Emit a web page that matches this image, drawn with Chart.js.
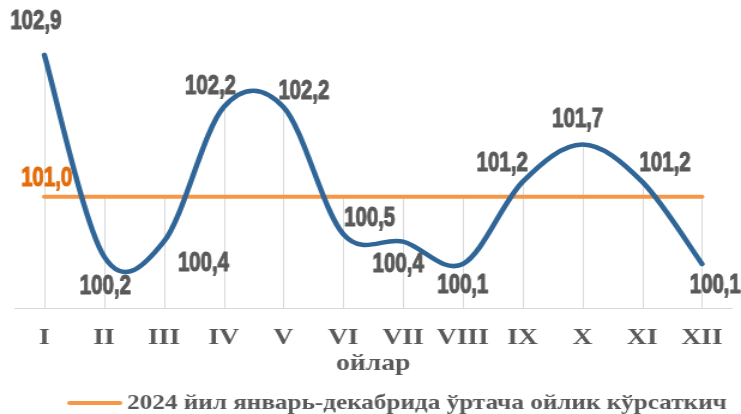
<!DOCTYPE html>
<html>
<head>
<meta charset="utf-8">
<script src="https://cdn.jsdelivr.net/npm/chart.js@4.4.1/dist/chart.umd.min.js"></script>
<style>
  html, body { margin: 0; padding: 0; background: #fff; }
  #chart { display: block; }
</style>
</head>
<body>
<!-- drawn 618 wide and shown 741 wide, like the stretched original -->
<canvas id="chart" width="618" height="414" style="width:741px;height:414px"></canvas>
<script>
var months = ['I', 'II', 'III', 'IV', 'V', 'VI', 'VII', 'VIII', 'IX', 'X', 'XI', 'XII'];
var monthly = [102.9, 100.2, 100.4, 102.2, 102.2, 100.5, 100.4, 100.1, 101.2, 101.7, 101.2, 100.1];
var average = [101.0, 101.0, 101.0, 101.0, 101.0, 101.0, 101.0, 101.0, 101.0, 101.0, 101.0, 101.0];
var seriesNames = ['2024 йил ойлар', '2024 йил январь-декабрида ўртача ойлик кўрсаткич'];

// where each value label sits relative to its point
var monthlyLabelOffsets = [[-7, -33], [1, 30], [33, 22], [-11, -21], [17, -16], [22, -16],
                           [-4, 23], [0, 22], [-17, -18], [-4, -25], [19, -18], [11, 22]];
var averageLabelOffset = [2, -18];

var textGray = '#595959';
var serif = "'Liberation Serif', 'Times New Roman', serif";

function fmt(v) { return v.toFixed(1).replace('.', ','); }

// Excel style smoothing: control points at 1/6 of the neighbour span
var excelSmooth = {
  id: 'excelSmooth',
  beforeDatasetDraw: function (chart, args) {
    var meta = args.meta;
    if (!meta.dataset || !meta.dataset.options.tension) return;
    meta.dataset.updateControlPoints(chart.chartArea, 'x');
    var pts = meta.data;
    for (var i = 0; i < pts.length; i++) {
      var p = pts[i];
      var a = pts[Math.max(i - 1, 0)];
      var b = pts[Math.min(i + 1, pts.length - 1)];
      var tx = (b.x - a.x) / 6, ty = (b.y - a.y) / 6;
      p.cp1x = p.x - tx; p.cp1y = p.y - ty;
      p.cp2x = p.x + tx; p.cp2y = p.y + ty;
    }
    meta.dataset._path = undefined;
  }
};

// drop lines from the highest point down to the axis
var dropLines = {
  id: 'dropLines',
  beforeDatasetsDraw: function (chart) {
    var ctx = chart.ctx, area = chart.chartArea;
    var metas = chart.getSortedVisibleDatasetMetas();
    ctx.save();
    ctx.strokeStyle = '#d9d9d9';
    ctx.lineWidth = 1;
    for (var i = 0; i < metas[0].data.length; i++) {
      var top = Infinity;
      metas.forEach(function (m) { top = Math.min(top, m.data[i].y); });
      var x = Math.round(metas[0].data[i].x) + 0.5;
      ctx.beginPath();
      ctx.moveTo(x, top);
      ctx.lineTo(x, area.bottom);
      ctx.stroke();
    }
    ctx.restore();
  }
};

// narrow heavy labels, like Arial Narrow bold
function drawLabel(ctx, text, x, y, color) {
  ctx.save();
  ctx.translate(x, y);
  ctx.scale(0.63, 1);
  ctx.fillStyle = color;
  ctx.strokeStyle = color;
  ctx.lineWidth = 1.2;
  ctx.lineJoin = 'round';
  ctx.font = "bold 27px 'Liberation Sans', Arial, sans-serif";
  ctx.textAlign = 'center';
  ctx.textBaseline = 'middle';
  ctx.fillText(text, 0, 0);
  ctx.strokeText(text, 0, 0);
  ctx.restore();
}

var valueLabels = {
  id: 'valueLabels',
  afterDatasetsDraw: function (chart) {
    var ctx = chart.ctx;
    var m0 = chart.getDatasetMeta(0);
    m0.data.forEach(function (pt, i) {
      var off = monthlyLabelOffsets[i];
      drawLabel(ctx, fmt(monthly[i]), pt.x + off[0], pt.y + off[1], textGray);
    });
    var p = chart.getDatasetMeta(1).data[0];
    drawLabel(ctx, fmt(average[0]), p.x + averageLabelOffset[0], p.y + averageLabelOffset[1], '#e36c09');
  }
};

// single legend entry under the axis title
var bottomLegend = {
  id: 'bottomLegend',
  afterDraw: function (chart) {
    var ctx = chart.ctx;
    var ds = chart.data.datasets[1];
    var y = 403;
    ctx.save();
    ctx.strokeStyle = ds.borderColor;
    ctx.lineWidth = ds.borderWidth;
    ctx.lineCap = 'round';
    ctx.beginPath();
    ctx.moveTo(58, y);
    ctx.lineTo(100, y);
    ctx.stroke();
    ctx.fillStyle = textGray;
    ctx.font = 'bold 21px ' + serif;
    ctx.textBaseline = 'middle';
    ctx.fillText(ds.label, 106, y + 1);
    ctx.restore();
  }
};

new Chart(document.getElementById('chart'), {
  type: 'line',
  data: {
    labels: months,
    datasets: [{
      label: seriesNames[0],
      data: monthly,
      borderColor: '#2f6597',
      backgroundColor: '#2f6597',
      borderWidth: 4.5,
      tension: 0.4,
      pointRadius: 0,
      borderCapStyle: 'round'
    }, {
      label: seriesNames[1],
      data: average,
      borderColor: '#f79646',
      backgroundColor: '#f79646',
      borderWidth: 4,
      tension: 0,
      pointRadius: 0,
      borderCapStyle: 'round'
    }]
  },
  options: {
    responsive: false,
    animation: false,
    layout: { padding: { left: 12, right: 6, top: 10, bottom: 36 } },
    plugins: {
      legend: { display: false },
      tooltip: { enabled: false }
    },
    scales: {
      x: {
        offset: true,
        grid: { display: false, drawTicks: false },
        border: { display: true, color: '#d9d9d9', width: 1 },
        ticks: {
          color: textGray,
          padding: 15,
          maxRotation: 0,
          autoSkip: false,
          font: { family: serif, size: 23, weight: 'bold' }
        },
        title: {
          display: true,
          text: 'ойлар',
          color: textGray,
          padding: { top: -16, bottom: 0 },
          font: { family: serif, size: 23, weight: 'bold' }
        }
      },
      y: {
        display: false,
        min: 99.5,
        max: 103.5
      }
    }
  },
  plugins: [excelSmooth, dropLines, valueLabels, bottomLegend]
});
</script>
</body>
</html>
